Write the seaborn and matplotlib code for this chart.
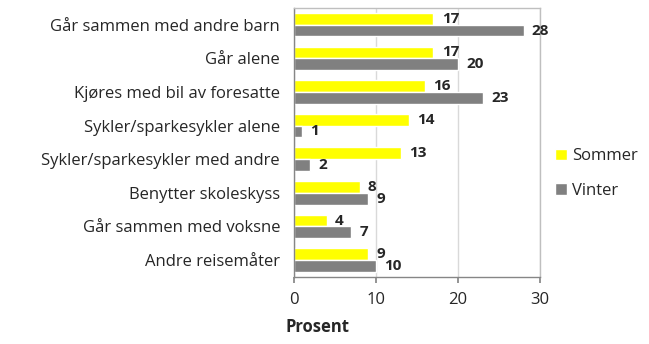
import matplotlib
matplotlib.use("Agg")
import matplotlib.pyplot as plt
import seaborn as sns
import pandas as pd

categories = [
    "Går sammen med andre barn",
    "Går alene",
    "Kjøres med bil av foresatte",
    "Sykler/sparkesykler alene",
    "Sykler/sparkesykler med andre",
    "Benytter skoleskyss",
    "Går sammen med voksne",
    "Andre reisemåter",
]
sommer = [17, 17, 16, 14, 13, 8, 4, 9]
vinter = [28, 20, 23, 1, 2, 9, 7, 10]
series = ["Sommer", "Vinter"]
colors = ["#FFFF00", "#808080"]

df = pd.DataFrame({
    "Kategori": categories * 2,
    "Prosent": sommer + vinter,
    "Sesong": [series[0]] * len(categories) + [series[1]] * len(categories),
})

sns.set_theme(style="white")
plt.rcParams["font.family"] = ["Open Sans", "DejaVu Sans"]

fig = plt.figure(figsize=(6.49, 3.44), dpi=100)
ax = fig.add_axes([0.453, 0.195, 0.379, 0.782])

sns.barplot(data=df, y="Kategori", x="Prosent", hue="Sesong", order=categories,
            hue_order=series, palette=colors, width=0.7, orient="h",
            saturation=1, ax=ax, legend=True)

ax.set_xlim(0, 30)
ax.set_xticks([0, 10, 20, 30])
ax.xaxis.grid(True, color="#D9D9D9", linewidth=1)
ax.set_axisbelow(True)
ax.set_xlabel("")
ax.set_ylabel("")
ax.tick_params(axis="x", labelsize=12, length=4, color="#868686", direction="out",
               pad=7, bottom=True)
ax.tick_params(axis="y", labelsize=12, length=0, pad=10)
for s in ["top", "right"]:
    ax.spines[s].set_color("#BFBFBF")
for s in ["left", "bottom"]:
    ax.spines[s].set_color("#868686")
for s in ax.spines.values():
    s.set_linewidth(1)

for cont in ax.containers:
    ax.bar_label(cont, fmt="%d", padding=6, fontsize=11, fontweight="bold")

fig.text(0.44, 0.035, "Prosent", fontsize=12, fontweight="bold", ha="left")

handles, labels = ax.get_legend_handles_labels()
ax.legend(handles, labels, loc="center left", bbox_to_anchor=(1.0, 0.385),
          frameon=False, fontsize=12, handlelength=0.7, handleheight=0.7,
          handletextpad=0.3, labelspacing=1.1)

fig.savefig("out.png", dpi=100)
